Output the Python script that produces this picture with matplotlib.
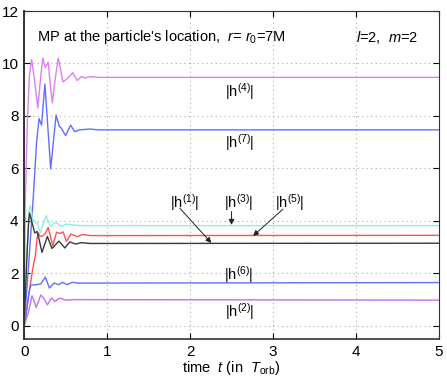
import matplotlib
matplotlib.use("Agg")
import matplotlib.pyplot as plt

plt.rcParams['font.family'] = ['Liberation Sans', 'DejaVu Sans']
plt.rcParams['mathtext.fontset'] = 'custom'
plt.rcParams['mathtext.rm'] = 'Liberation Sans'
plt.rcParams['mathtext.it'] = 'Liberation Sans:italic'

# values (time in T_orb, amplitude)
t_h4 = [0, 0.012, 0.04, 0.065, 0.09, 0.12, 0.165, 0.2, 0.225, 0.256, 0.29, 0.315, 0.34, 0.37,
        0.41, 0.44, 0.465, 0.49, 0.53, 0.585, 0.64, 0.69, 0.73, 0.8, 0.9, 5.0]
h4 = [0, 4.5, 7.9, 9.6, 10.15, 9.5, 8.3, 9.5, 10.2, 9.85, 10.05, 9.2, 8.5, 9.3,
      10.2, 9.8, 9.3, 9.35, 9.45, 9.65, 9.35, 9.5, 9.45, 9.5, 9.47, 9.47]

t_h7 = [0, 0.06, 0.11, 0.15, 0.18, 0.21, 0.25, 0.32, 0.385, 0.425, 0.445, 0.5, 0.56, 0.61,
        0.67, 0.79, 0.9, 5.0]
h7 = [0, 2.6, 4.9, 7.0, 7.9, 7.65, 9.22, 5.98, 8.03, 7.6, 7.55, 7.25, 7.65, 7.4,
      7.47, 7.5, 7.47, 7.47]

t_h3 = [0, 0.03, 0.06, 0.075, 0.1, 0.136, 0.155, 0.195, 0.265, 0.316, 0.37, 0.41, 0.45,
        0.5, 0.6, 0.7, 5.0]
h3 = [0, 2.6, 4.4, 4.58, 4.1, 3.92, 3.95, 3.55, 4.2, 3.79, 3.93, 3.9, 3.79,
      3.88, 3.84, 3.82, 3.82]

t_h5 = [0, 0.1, 0.136, 0.155, 0.17, 0.19, 0.22, 0.25, 0.29, 0.345, 0.39, 0.43, 0.47,
        0.51, 0.565, 0.64, 0.7, 0.8, 5.0]
h5 = [0, 2.1, 2.7, 3.3, 3.55, 3.42, 3.42, 3.5, 3.75, 3.05, 3.57, 3.52, 3.58,
      3.22, 3.5, 3.4, 3.48, 3.44, 3.45]

t_h1 = [0, 0.03, 0.055, 0.065, 0.096, 0.128, 0.156, 0.18, 0.215, 0.28, 0.335, 0.42,
        0.49, 0.55, 0.62, 0.69, 0.8, 5.0]
h1 = [0, 2.4, 4.0, 4.3, 3.92, 3.54, 3.6, 3.3, 2.8, 3.41, 2.95, 3.23,
      2.97, 3.2, 3.12, 3.17, 3.14, 3.15]

t_h6 = [0, 0.03, 0.06, 0.08, 0.15, 0.2, 0.256, 0.305, 0.36, 0.42, 0.46, 0.52, 0.58,
        0.65, 5.0]
h6 = [0, 0.6, 1.3, 1.55, 1.57, 1.6, 1.86, 1.44, 1.63, 1.57, 1.66, 1.57, 1.66,
      1.63, 1.65]

t_h2 = [0, 0.05, 0.075, 0.095, 0.115, 0.145, 0.175, 0.2, 0.235, 0.28, 0.33, 0.37,
        0.43, 0.5, 0.6, 5.0]
h2 = [0, 0.5, 0.85, 1.15, 1.0, 0.7, 0.95, 1.18, 1.05, 0.8, 1.06, 0.93,
      1.06, 0.98, 1.0, 0.98]

series = [
    (t_h4, h4, '#dd80f0'),
    (t_h7, h7, '#6070ff'),
    (t_h3, h3, '#88f4dc'),
    (t_h5, h5, '#ff5050'),
    (t_h1, h1, '#3a3a3a'),
    (t_h6, h6, '#6070ff'),
    (t_h2, h2, '#c070f0'),
]


def main():
    fig = plt.figure(figsize=(4.47, 3.82), dpi=100)
    ax = fig.add_axes([0.054, 0.1126, 0.928, 0.8586])

    for t, h, c in series:
        ax.plot(t, h, color=c, lw=1.0)

    ax.set_xlim(0, 5)
    ax.set_ylim(-0.5, 12)
    ax.set_xticks(range(0, 6))
    ax.set_yticks(range(0, 13, 2))
    ax.tick_params(direction='in', top=True, right=True, labelsize=11, length=4, pad=4)
    ax.grid(True, linestyle=(0, (1, 3)), color='#aaaaaa', lw=0.8)
    for s in ax.spines.values():
        s.set_color('#333333')
    ax.spines['left'].set_linewidth(1.4)
    ax.spines['bottom'].set_linewidth(1.2)

    ax.text(0.15, 11.0, "MP at the particle's location,  $r$= $r_0$=7M", fontsize=10.5, va='center')
    ax.text(4.0, 11.0, "$l$=2,  $m$=2", fontsize=10.5, va='center')

    ax.text(2.6, 8.93, r"$|\mathrm{h}^{(4)}|$", fontsize=10.5, ha='center', va='center')
    ax.text(2.6, 6.98, r"$|\mathrm{h}^{(7)}|$", fontsize=10.5, ha='center', va='center')
    ax.text(2.58, 1.95, r"$|\mathrm{h}^{(6)}|$", fontsize=10.5, ha='center', va='center')
    ax.text(2.6, 0.55, r"$|\mathrm{h}^{(2)}|$", fontsize=10.5, ha='center', va='center')

    arrow = dict(arrowstyle='-|>', color='#222222', lw=0.7, mutation_scale=8, shrinkA=0, shrinkB=0)
    ax.text(1.94, 4.69, r"$|\mathrm{h}^{(1)}|$", fontsize=10.5, ha='center', va='center')
    ax.annotate('', xy=(2.256, 3.16), xytext=(1.875, 4.49), arrowprops=arrow)
    ax.text(2.58, 4.69, r"$|\mathrm{h}^{(3)}|$", fontsize=10.5, ha='center', va='center')
    ax.annotate('', xy=(2.5, 3.85), xytext=(2.5, 4.36), arrowprops=arrow)
    ax.text(3.2, 4.69, r"$|\mathrm{h}^{(5)}|$", fontsize=10.5, ha='center', va='center')
    ax.annotate('', xy=(2.76, 3.43), xytext=(3.12, 4.45), arrowprops=arrow)

    ax.set_xlabel(r"time  $t$ (in  $T_{\rm orb}$)", fontsize=10.5, labelpad=0)

    fig.savefig("out.png", dpi=100)
    plt.close(fig)


if __name__ == "__main__":
    main()
